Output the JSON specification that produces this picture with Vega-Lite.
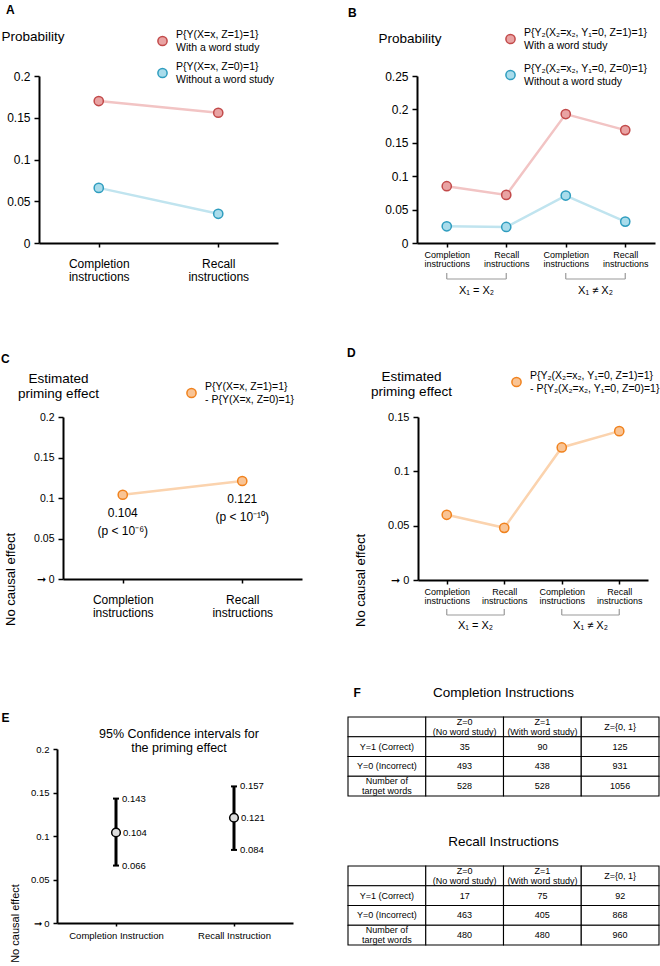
{
  "$schema": "https://vega.github.io/schema/vega-lite/v6.json",
  "padding": {"left": 0, "top": 3, "right": 0, "bottom": 0},
  "config": {
    "font": "Liberation Sans",
    "view": {"stroke": null},
    "axis": {"domainColor": "#000", "domainWidth": 2, "tickColor": "#000", "tickWidth": 1.5, "labelColor": "#000", "titleColor": "#000", "grid": false, "titleFontWeight": "normal", "labelFont": "Liberation Sans", "titleFont": "Liberation Sans"},
    "legend": {"labelColor": "#000", "labelFont": "Liberation Sans"},
    "title": {"color": "#000", "font": "Liberation Sans"},
    "text": {"color": "#000", "font": "Liberation Sans"},
    "style": {"guide-label": {"lineBreak": "|"}}
  },
  "concat": [
    {
      "concat": [
        {
          "concat": [
            {"width": 1, "height": 1, "data": {"values": []}, "mark": {"type": "point", "opacity": 0}, "encoding": {}},
            {
              "concat": [
                {
                  "width": 239, "height": 167,
                  "title": {"text": "A", "anchor": "start", "frame": "group", "dx": -33, "offset": 12.5, "fontSize": 12, "fontWeight": "bold"},
                  "data": {"values": [
                    {"instr": "Completion instructions", "series": "P{Y(X=x, Z=1)=1}|With a word study", "p": 0.170},
                    {"instr": "Recall instructions", "series": "P{Y(X=x, Z=1)=1}|With a word study", "p": 0.156},
                    {"instr": "Completion instructions", "series": "P{Y(X=x, Z=0)=1}|Without a word study", "p": 0.066},
                    {"instr": "Recall instructions", "series": "P{Y(X=x, Z=0)=1}|Without a word study", "p": 0.035}
                  ]},
                  "encoding": {
                    "x": {"field": "instr", "type": "nominal", "scale": {"type": "point", "padding": 0.5, "domain": ["Completion instructions", "Recall instructions"]}, "axis": {"title": null, "labelAngle": 0, "labelExpr": "split(datum.label, ' ')", "labelFontSize": 12, "labelLineHeight": 13.5, "tickSize": 4, "labelPadding": 11}},
                    "y": {"field": "p", "type": "quantitative", "scale": {"domain": [0, 0.2], "nice": false}, "axis": {"values": [0, 0.05, 0.1, 0.15, 0.2], "format": "~g", "labelFontSize": 12, "tickSize": 5, "labelPadding": 4, "title": "Probability", "titleAngle": 0, "titleAlign": "left", "titleBaseline": "alphabetic", "titleX": -38, "titleY": -36, "titleFontSize": 13.5}}
                  },
                  "layer": [
                    {"transform": [{"filter": {"field": "series", "equal": "P{Y(X=x, Z=1)=1}|With a word study"}}], "mark": {"type": "line", "strokeWidth": 2.5, "color": "#f2c4c4"}},
                    {"transform": [{"filter": {"field": "series", "equal": "P{Y(X=x, Z=0)=1}|Without a word study"}}], "mark": {"type": "line", "strokeWidth": 2.5, "color": "#c0e4ef"}},
                    {"mark": {"type": "circle", "size": 85, "strokeWidth": 1.5, "opacity": 1}, "encoding": {
                      "fill": {"field": "series", "type": "nominal", "scale": {"domain": ["P{Y(X=x, Z=1)=1}|With a word study", "P{Y(X=x, Z=0)=1}|Without a word study"], "range": ["#e9a3a3", "#a9dceb"]}, "legend": {"orient": "none", "legendX": 118, "legendY": -40.5, "title": null, "labelFontSize": 10.5, "labelLineHeight": 13, "labelBaseline": "line-bottom", "symbolSize": 85, "symbolStrokeWidth": 1.5, "rowPadding": 8, "labelOffset": 8, "padding": 0, "labelLimit": 300}},
                      "stroke": {"field": "series", "type": "nominal", "scale": {"domain": ["P{Y(X=x, Z=1)=1}|With a word study", "P{Y(X=x, Z=0)=1}|Without a word study"], "range": ["#c24a4a", "#2f9dbf"]}, "legend": {"orient": "none", "legendX": 118, "legendY": -40.5, "title": null, "labelFontSize": 10.5, "labelLineHeight": 13, "labelBaseline": "line-bottom", "symbolSize": 85, "symbolStrokeWidth": 1.5, "rowPadding": 8, "labelOffset": 8, "padding": 0, "labelLimit": 300}}
                    }}
                  ]
                },
                {
                  "width": 238, "height": 167,
                  "title": {"text": "B", "anchor": "start", "frame": "group", "dx": -69, "offset": 11, "fontSize": 12, "fontWeight": "bold"},
                  "data": {"values": [
                    {"cond": "Completion instructions, X₁ = X₂", "series": "P{Y₂(X₂=x₂, Y₁=0, Z=1)=1}|With a word study", "p": 0.085},
                    {"cond": "Recall instructions, X₁ = X₂", "series": "P{Y₂(X₂=x₂, Y₁=0, Z=1)=1}|With a word study", "p": 0.072},
                    {"cond": "Completion instructions, X₁ ≠ X₂", "series": "P{Y₂(X₂=x₂, Y₁=0, Z=1)=1}|With a word study", "p": 0.193},
                    {"cond": "Recall instructions, X₁ ≠ X₂", "series": "P{Y₂(X₂=x₂, Y₁=0, Z=1)=1}|With a word study", "p": 0.169},
                    {"cond": "Completion instructions, X₁ = X₂", "series": "P{Y₂(X₂=x₂, Y₁=0, Z=0)=1}|Without a word study", "p": 0.025},
                    {"cond": "Recall instructions, X₁ = X₂", "series": "P{Y₂(X₂=x₂, Y₁=0, Z=0)=1}|Without a word study", "p": 0.024},
                    {"cond": "Completion instructions, X₁ ≠ X₂", "series": "P{Y₂(X₂=x₂, Y₁=0, Z=0)=1}|Without a word study", "p": 0.071},
                    {"cond": "Recall instructions, X₁ ≠ X₂", "series": "P{Y₂(X₂=x₂, Y₁=0, Z=0)=1}|Without a word study", "p": 0.032}
                  ]},
                  "layer": [
                    {
                      "layer": [
                        {"transform": [{"filter": {"field": "series", "equal": "P{Y₂(X₂=x₂, Y₁=0, Z=1)=1}|With a word study"}}], "mark": {"type": "line", "strokeWidth": 2.5, "color": "#f2c4c4"}, "encoding": {
                          "x": {"field": "cond", "type": "nominal", "scale": {"type": "point", "padding": 0.5, "domain": ["Completion instructions, X₁ = X₂", "Recall instructions, X₁ = X₂", "Completion instructions, X₁ ≠ X₂", "Recall instructions, X₁ ≠ X₂"]}, "axis": {"title": null, "labelAngle": 0, "labelExpr": "split(split(datum.label, ',')[0], ' ')", "labelFontSize": 9, "labelLineHeight": 9.5, "tickSize": 4, "labelPadding": 3}},
                          "y": {"field": "p", "type": "quantitative", "scale": {"domain": [0, 0.25], "nice": false}, "axis": {"values": [0, 0.05, 0.1, 0.15, 0.2, 0.25], "format": "~g", "labelFontSize": 12, "tickSize": 5, "labelPadding": 4, "title": "Probability", "titleAngle": 0, "titleAlign": "left", "titleBaseline": "alphabetic", "titleX": -39, "titleY": -34, "titleFontSize": 13.5}}
                        }},
                        {"transform": [{"filter": {"field": "series", "equal": "P{Y₂(X₂=x₂, Y₁=0, Z=0)=1}|Without a word study"}}], "mark": {"type": "line", "strokeWidth": 2.5, "color": "#c0e4ef"}, "encoding": {
                          "x": {"field": "cond", "type": "nominal", "axis": {"title": null, "labelAngle": 0, "labelExpr": "split(split(datum.label, ',')[0], ' ')", "labelFontSize": 9, "labelLineHeight": 9.5, "tickSize": 4, "labelPadding": 3}},
                          "y": {"field": "p", "type": "quantitative", "axis": {"values": [0, 0.05, 0.1, 0.15, 0.2, 0.25], "format": "~g", "labelFontSize": 12, "tickSize": 5, "labelPadding": 4, "title": "Probability", "titleAngle": 0, "titleAlign": "left", "titleBaseline": "alphabetic", "titleX": -39, "titleY": -34, "titleFontSize": 13.5}}
                        }},
                        {"mark": {"type": "circle", "size": 85, "strokeWidth": 1.5, "opacity": 1}, "encoding": {
                          "x": {"field": "cond", "type": "nominal", "axis": {"title": null, "labelAngle": 0, "labelExpr": "split(split(datum.label, ',')[0], ' ')", "labelFontSize": 9, "labelLineHeight": 9.5, "tickSize": 4, "labelPadding": 3}},
                          "y": {"field": "p", "type": "quantitative", "axis": {"values": [0, 0.05, 0.1, 0.15, 0.2, 0.25], "format": "~g", "labelFontSize": 12, "tickSize": 5, "labelPadding": 4, "title": "Probability", "titleAngle": 0, "titleAlign": "left", "titleBaseline": "alphabetic", "titleX": -39, "titleY": -34, "titleFontSize": 13.5}},
                          "fill": {"field": "series", "type": "nominal", "scale": {"domain": ["P{Y₂(X₂=x₂, Y₁=0, Z=1)=1}|With a word study", "P{Y₂(X₂=x₂, Y₁=0, Z=0)=1}|Without a word study"], "range": ["#e9a3a3", "#a9dceb"]}, "legend": {"orient": "none", "legendX": 88, "legendY": -42.5, "title": null, "labelFontSize": 10.5, "labelLineHeight": 13, "labelBaseline": "line-bottom", "symbolSize": 85, "symbolStrokeWidth": 1.5, "rowPadding": 12, "labelOffset": 8, "padding": 0, "labelLimit": 300}},
                          "stroke": {"field": "series", "type": "nominal", "scale": {"domain": ["P{Y₂(X₂=x₂, Y₁=0, Z=1)=1}|With a word study", "P{Y₂(X₂=x₂, Y₁=0, Z=0)=1}|Without a word study"], "range": ["#c24a4a", "#2f9dbf"]}, "legend": {"orient": "none", "legendX": 88, "legendY": -42.5, "title": null, "labelFontSize": 10.5, "labelLineHeight": 13, "labelBaseline": "line-bottom", "symbolSize": 85, "symbolStrokeWidth": 1.5, "rowPadding": 12, "labelOffset": 8, "padding": 0, "labelLimit": 300}}
                        }},
                        {"data": {"values": [
                          {"group": "X₁ = X₂", "from": "Completion instructions, X₁ = X₂", "to": "Recall instructions, X₁ = X₂"},
                          {"group": "X₁ ≠ X₂", "from": "Completion instructions, X₁ ≠ X₂", "to": "Recall instructions, X₁ ≠ X₂"}
                        ]},
                        "mark": {"type": "rule", "yOffset": 36, "color": "#9a9a9a", "strokeWidth": 1.2},
                        "encoding": {"x": {"field": "from", "type": "nominal", "axis": {"title": null}}, "x2": {"field": "to"}, "y": {"datum": 0, "type": "quantitative", "axis": {"values": [0, 0.05, 0.1, 0.15, 0.2, 0.25], "format": "~g", "title": "Probability"}}}},
                        {"data": {"values": [
                          {"group": "X₁ = X₂", "from": "Completion instructions, X₁ = X₂", "to": "Recall instructions, X₁ = X₂"},
                          {"group": "X₁ ≠ X₂", "from": "Completion instructions, X₁ ≠ X₂", "to": "Recall instructions, X₁ ≠ X₂"}
                        ]},
                        "mark": {"type": "rule", "yOffset": 30, "y2Offset": 36, "color": "#9a9a9a", "strokeWidth": 1.2},
                        "encoding": {"x": {"field": "from", "type": "nominal", "axis": {"title": null}}, "y": {"datum": 0, "type": "quantitative", "axis": {"values": [0, 0.05, 0.1, 0.15, 0.2, 0.25], "format": "~g", "title": "Probability"}}, "y2": {"datum": 0}}},
                        {"data": {"values": [
                          {"group": "X₁ = X₂", "from": "Completion instructions, X₁ = X₂", "to": "Recall instructions, X₁ = X₂"},
                          {"group": "X₁ ≠ X₂", "from": "Completion instructions, X₁ ≠ X₂", "to": "Recall instructions, X₁ ≠ X₂"}
                        ]},
                        "mark": {"type": "rule", "yOffset": 30, "y2Offset": 36, "color": "#9a9a9a", "strokeWidth": 1.2},
                        "encoding": {"x": {"field": "to", "type": "nominal", "axis": {"title": null}}, "y": {"datum": 0, "type": "quantitative", "axis": {"values": [0, 0.05, 0.1, 0.15, 0.2, 0.25], "format": "~g", "title": "Probability"}}, "y2": {"datum": 0}}}
                      ]
                    },
                    {
                      "data": {"values": [{"group": "X₁ = X₂"}, {"group": "X₁ ≠ X₂"}]},
                      "mark": {"type": "text", "dy": 48, "fontSize": 11, "baseline": "middle"},
                      "encoding": {
                        "x": {"field": "group", "type": "nominal", "scale": {"type": "point", "padding": 0.5, "domain": ["X₁ = X₂", "X₁ ≠ X₂"]}, "axis": null},
                        "y": {"datum": 0, "type": "quantitative", "axis": {"values": [0, 0.05, 0.1, 0.15, 0.2, 0.25], "format": "~g", "title": "Probability"}},
                        "text": {"field": "group"}
                      }
                    }
                  ],
                  "resolve": {"scale": {"x": "independent"}}
                }
              ],
              "spacing": 70,
              "align": "none",
              "resolve": {"scale": {"color": "independent", "fill": "independent", "stroke": "independent"}, "legend": {"color": "independent", "fill": "independent", "stroke": "independent"}}
            }
          ],
          "spacing": 0,
          "align": "none",
          "resolve": {"scale": {"color": "independent", "fill": "independent", "stroke": "independent"}, "legend": {"color": "independent", "fill": "independent", "stroke": "independent"}}
        },
        {
          "concat": [
            {"width": 1, "height": 1, "data": {"values": []}, "mark": {"type": "point", "opacity": 0}, "encoding": {}},
            {
              "concat": [
                {
                  "width": 239, "height": 162,
                  "title": {"text": "  C", "anchor": "start", "frame": "group", "dx": -62, "offset": 5, "fontSize": 12, "fontWeight": "bold"},
                  "data": {"values": [
                    {"instr": "Completion instructions", "series": "P{Y(X=x, Z=1)=1}|- P{Y(X=x, Z=0)=1}", "effect": 0.104, "note": "0.104\n(p < 10⁻⁶)"},
                    {"instr": "Recall instructions", "series": "P{Y(X=x, Z=1)=1}|- P{Y(X=x, Z=0)=1}", "effect": 0.121, "note": "0.121\n(p < 10⁻¹⁰)"}
                  ]},
                  "encoding": {
                    "x": {"field": "instr", "type": "nominal", "scale": {"type": "point", "padding": 0.5, "domain": ["Completion instructions", "Recall instructions"]}, "axis": {"title": "No causal effect", "titleAngle": 270, "titleX": -53, "titleY": 0, "titleAlign": "center", "titleBaseline": "middle", "titleFontSize": 13, "labelAngle": 0, "labelExpr": "split(datum.label, ' ')", "labelFontSize": 12, "labelLineHeight": 13.5, "tickSize": 4, "labelPadding": 11}},
                    "y": {"field": "effect", "type": "quantitative", "scale": {"domain": [0, 0.2], "nice": false}, "axis": {"values": [0, 0.05, 0.1, 0.15, 0.2], "format": "~g", "labelExpr": "datum.value == 0 ? '➞   0' : datum.label", "labelFontSize": 10.5, "tickSize": 5, "labelPadding": 4, "title": ["Estimated", "priming effect"], "titleAngle": 0, "titleAlign": "center", "titleBaseline": "alphabetic", "titleX": -5, "titleY": -35, "titleFontSize": 13.5, "titleLineHeight": 15}}
                  },
                  "layer": [
                    {"mark": {"type": "line", "strokeWidth": 2.5, "color": "#fbd3ae"}},
                    {"mark": {"type": "circle", "size": 85, "strokeWidth": 1.5, "opacity": 1}, "encoding": {
                      "fill": {"field": "series", "type": "nominal", "scale": {"domain": ["P{Y(X=x, Z=1)=1}|- P{Y(X=x, Z=0)=1}"], "range": ["#f9c495"]}, "legend": {"orient": "none", "legendX": 123, "legendY": -29.5, "title": null, "labelFontSize": 10.5, "labelLineHeight": 12, "labelBaseline": "line-bottom", "symbolSize": 85, "symbolStrokeWidth": 1.5, "labelOffset": 8, "padding": 0, "labelLimit": 300}},
                      "stroke": {"field": "series", "type": "nominal", "scale": {"domain": ["P{Y(X=x, Z=1)=1}|- P{Y(X=x, Z=0)=1}"], "range": ["#f0821e"]}, "legend": {"orient": "none", "legendX": 123, "legendY": -29.5, "title": null, "labelFontSize": 10.5, "labelLineHeight": 12, "labelBaseline": "line-bottom", "symbolSize": 85, "symbolStrokeWidth": 1.5, "labelOffset": 8, "padding": 0, "labelLimit": 300}}
                    }},
                    {"mark": {"type": "text", "lineBreak": "\n", "baseline": "top", "dy": 13, "fontSize": 12, "lineHeight": 18}, "encoding": {"text": {"field": "note"}}}
                  ]
                },
                {
                  "width": 230, "height": 163,
                  "title": {"text": "D", "anchor": "start", "frame": "group", "dx": -71, "offset": 9.5, "fontSize": 12, "fontWeight": "bold"},
                  "data": {"values": [
                    {"cond": "Completion instructions, X₁ = X₂", "series": "P{Y₂(X₂=x₂, Y₁=0, Z=1)=1}|- P{Y₂(X₂=x₂, Y₁=0, Z=0)=1}", "effect": 0.060},
                    {"cond": "Recall instructions, X₁ = X₂", "series": "P{Y₂(X₂=x₂, Y₁=0, Z=1)=1}|- P{Y₂(X₂=x₂, Y₁=0, Z=0)=1}", "effect": 0.048},
                    {"cond": "Completion instructions, X₁ ≠ X₂", "series": "P{Y₂(X₂=x₂, Y₁=0, Z=1)=1}|- P{Y₂(X₂=x₂, Y₁=0, Z=0)=1}", "effect": 0.122},
                    {"cond": "Recall instructions, X₁ ≠ X₂", "series": "P{Y₂(X₂=x₂, Y₁=0, Z=1)=1}|- P{Y₂(X₂=x₂, Y₁=0, Z=0)=1}", "effect": 0.137}
                  ]},
                  "layer": [
                    {
                      "layer": [
                        {"mark": {"type": "line", "strokeWidth": 2.5, "color": "#fbd3ae"}, "encoding": {
                          "x": {"field": "cond", "type": "nominal", "scale": {"type": "point", "padding": 0.5, "domain": ["Completion instructions, X₁ = X₂", "Recall instructions, X₁ = X₂", "Completion instructions, X₁ ≠ X₂", "Recall instructions, X₁ ≠ X₂"]}, "axis": {"title": "No causal effect", "titleAngle": 270, "titleX": -58, "titleY": 0, "titleAlign": "center", "titleBaseline": "middle", "titleFontSize": 13, "labelAngle": 0, "labelExpr": "split(split(datum.label, ',')[0], ' ')", "labelFontSize": 9, "labelLineHeight": 9.5, "tickSize": 4, "labelPadding": 3}},
                          "y": {"field": "effect", "type": "quantitative", "scale": {"domain": [0, 0.15], "nice": false}, "axis": {"values": [0, 0.05, 0.1, 0.15], "format": "~g", "labelExpr": "datum.value == 0 ? '➞   0' : datum.label", "labelFontSize": 11, "tickSize": 5, "labelPadding": 4, "title": ["Estimated", "priming effect"], "titleAngle": 0, "titleAlign": "center", "titleBaseline": "alphabetic", "titleX": -7, "titleY": -37, "titleFontSize": 13.5, "titleLineHeight": 15}}
                        }},
                        {"mark": {"type": "circle", "size": 85, "strokeWidth": 1.5, "opacity": 1}, "encoding": {
                          "x": {"field": "cond", "type": "nominal"},
                          "y": {"field": "effect", "type": "quantitative"},
                          "fill": {"field": "series", "type": "nominal", "scale": {"domain": ["P{Y₂(X₂=x₂, Y₁=0, Z=1)=1}|- P{Y₂(X₂=x₂, Y₁=0, Z=0)=1}"], "range": ["#f9c495"]}, "legend": {"orient": "none", "legendX": 93, "legendY": -40.5, "title": null, "labelFontSize": 10.5, "labelLineHeight": 12, "labelBaseline": "line-bottom", "symbolSize": 85, "symbolStrokeWidth": 1.5, "labelOffset": 8, "padding": 0, "labelLimit": 300}},
                          "stroke": {"field": "series", "type": "nominal", "scale": {"domain": ["P{Y₂(X₂=x₂, Y₁=0, Z=1)=1}|- P{Y₂(X₂=x₂, Y₁=0, Z=0)=1}"], "range": ["#f0821e"]}, "legend": {"orient": "none", "legendX": 93, "legendY": -40.5, "title": null, "labelFontSize": 10.5, "labelLineHeight": 12, "labelBaseline": "line-bottom", "symbolSize": 85, "symbolStrokeWidth": 1.5, "labelOffset": 8, "padding": 0, "labelLimit": 300}}
                        }},
                        {"data": {"values": [
                          {"group": "X₁ = X₂", "from": "Completion instructions, X₁ = X₂", "to": "Recall instructions, X₁ = X₂"},
                          {"group": "X₁ ≠ X₂", "from": "Completion instructions, X₁ ≠ X₂", "to": "Recall instructions, X₁ ≠ X₂"}
                        ]},
                        "mark": {"type": "rule", "yOffset": 35, "color": "#9a9a9a", "strokeWidth": 1.2},
                        "encoding": {"x": {"field": "from", "type": "nominal"}, "x2": {"field": "to"}, "y": {"datum": 0, "type": "quantitative"}}},
                        {"data": {"values": [
                          {"group": "X₁ = X₂", "from": "Completion instructions, X₁ = X₂", "to": "Recall instructions, X₁ = X₂"},
                          {"group": "X₁ ≠ X₂", "from": "Completion instructions, X₁ ≠ X₂", "to": "Recall instructions, X₁ ≠ X₂"}
                        ]},
                        "mark": {"type": "rule", "yOffset": 29, "y2Offset": 35, "color": "#9a9a9a", "strokeWidth": 1.2},
                        "encoding": {"x": {"field": "from", "type": "nominal"}, "y": {"datum": 0, "type": "quantitative"}, "y2": {"datum": 0}}},
                        {"data": {"values": [
                          {"group": "X₁ = X₂", "from": "Completion instructions, X₁ = X₂", "to": "Recall instructions, X₁ = X₂"},
                          {"group": "X₁ ≠ X₂", "from": "Completion instructions, X₁ ≠ X₂", "to": "Recall instructions, X₁ ≠ X₂"}
                        ]},
                        "mark": {"type": "rule", "yOffset": 29, "y2Offset": 35, "color": "#9a9a9a", "strokeWidth": 1.2},
                        "encoding": {"x": {"field": "to", "type": "nominal"}, "y": {"datum": 0, "type": "quantitative"}, "y2": {"datum": 0}}}
                      ]
                    },
                    {
                      "data": {"values": [{"group": "X₁ = X₂"}, {"group": "X₁ ≠ X₂"}]},
                      "mark": {"type": "text", "dy": 46, "fontSize": 11, "baseline": "middle"},
                      "encoding": {
                        "x": {"field": "group", "type": "nominal", "scale": {"type": "point", "padding": 0.5, "domain": ["X₁ = X₂", "X₁ ≠ X₂"]}, "axis": null},
                        "y": {"datum": 0, "type": "quantitative"},
                        "text": {"field": "group"}
                      }
                    }
                  ],
                  "resolve": {"scale": {"x": "independent"}}
                }
              ],
              "spacing": 45,
              "align": "none",
              "resolve": {"scale": {"color": "independent", "fill": "independent", "stroke": "independent"}, "legend": {"color": "independent", "fill": "independent", "stroke": "independent"}}
            }
          ],
          "spacing": 0,
          "align": "none",
          "resolve": {"scale": {"color": "independent", "fill": "independent", "stroke": "independent"}, "legend": {"color": "independent", "fill": "independent", "stroke": "independent"}}
        }
      ],
      "columns": 1,
      "spacing": 50,
      "align": "none",
      "resolve": {"scale": {"color": "independent", "fill": "independent", "stroke": "independent"}, "legend": {"color": "independent", "fill": "independent", "stroke": "independent"}}
    },
    {
      "concat": [
        {"width": 1, "height": 1, "data": {"values": []}, "mark": {"type": "point", "opacity": 0}, "encoding": {}},
        {
          "concat": [
            {
              "vconcat": [
                {"width": 1, "height": 1, "data": {"values": []}, "mark": {"type": "point", "opacity": 0}, "encoding": {}},
                {
                  "width": 236, "height": 174,
                  "title": {"text": ["95% Confidence intervals for", "the priming effect"], "anchor": "middle", "frame": "group", "dx": 4, "offset": -43, "fontSize": 12.5, "fontWeight": "normal", "lineHeight": 14},
                  "data": {"values": [
                    {"instr": "Completion Instruction", "lo": 0.066, "est": 0.104, "hi": 0.143},
                    {"instr": "Recall Instruction", "lo": 0.084, "est": 0.121, "hi": 0.157}
                  ]},
                  "encoding": {
                    "x": {"field": "instr", "type": "nominal", "scale": {"type": "point", "padding": 0.5, "domain": ["Completion Instruction", "Recall Instruction"]}, "axis": {"title": "No causal effect", "titleAngle": 270, "titleX": -42, "titleY": 0, "titleAlign": "center", "titleBaseline": "middle", "titleFontSize": 11, "labelAngle": 0, "labelFontSize": 9.5, "tickSize": 3, "labelPadding": 4}}
                  },
                  "layer": [
                    {"mark": {"type": "rule", "strokeWidth": 3, "color": "#000"}, "encoding": {
                      "y": {"field": "lo", "type": "quantitative", "scale": {"domain": [0, 0.2], "nice": false}, "axis": {"values": [0, 0.05, 0.1, 0.15, 0.2], "format": "~g", "labelExpr": "datum.value == 0 ? '➞  0' : datum.label", "labelFontSize": 9.5, "tickSize": 4, "labelPadding": 4, "title": "  E", "titleAngle": 0, "titleAlign": "left", "titleBaseline": "middle", "titleX": -56, "titleY": -32, "titleFontSize": 12, "titleFontWeight": "bold"}},
                      "y2": {"field": "hi"}
                    }},
                    {"mark": {"type": "tick", "orient": "horizontal", "size": 6, "thickness": 2, "color": "#000", "opacity": 1}, "encoding": {"y": {"field": "lo", "type": "quantitative"}}},
                    {"mark": {"type": "tick", "orient": "horizontal", "size": 6, "thickness": 2, "color": "#000", "opacity": 1}, "encoding": {"y": {"field": "hi", "type": "quantitative"}}},
                    {"mark": {"type": "circle", "size": 75, "fill": "#dcdcdc", "stroke": "#000", "strokeWidth": 1.5, "opacity": 1}, "encoding": {"y": {"field": "est", "type": "quantitative"}}},
                    {"mark": {"type": "text", "align": "left", "dx": 6, "fontSize": 9.5, "baseline": "middle"}, "encoding": {"y": {"field": "lo", "type": "quantitative"}, "text": {"field": "lo", "type": "quantitative", "format": ".3f"}}},
                    {"mark": {"type": "text", "align": "left", "dx": 7, "fontSize": 9.5, "baseline": "middle"}, "encoding": {"y": {"field": "est", "type": "quantitative"}, "text": {"field": "est", "type": "quantitative", "format": ".3f"}}},
                    {"mark": {"type": "text", "align": "left", "dx": 6, "fontSize": 9.5, "baseline": "middle"}, "encoding": {"y": {"field": "hi", "type": "quantitative"}, "text": {"field": "hi", "type": "quantitative", "format": ".3f"}}}
                  ]
                }
              ],
              "spacing": 31,
              "bounds": "flush"
            },
            {
              "vconcat": [
                {
                  "width": 311, "height": 79,
                  "title": {"text": "Completion Instructions", "anchor": "middle", "offset": -13, "fontSize": 13.5, "fontWeight": "normal"},
                  "data": {"values": [
                    {"row": "head", "col": "label", "text": ""},
                    {"row": "head", "col": "z0", "text": "Z=0\n(No word study)"},
                    {"row": "head", "col": "z1", "text": "Z=1\n(With word study)"},
                    {"row": "head", "col": "zall", "text": "Z={0, 1}"},
                    {"row": "y1", "col": "label", "text": "Y=1 (Correct)"},
                    {"row": "y1", "col": "z0", "text": "35"},
                    {"row": "y1", "col": "z1", "text": "90"},
                    {"row": "y1", "col": "zall", "text": "125"},
                    {"row": "y0", "col": "label", "text": "Y=0 (Incorrect)"},
                    {"row": "y0", "col": "z0", "text": "493"},
                    {"row": "y0", "col": "z1", "text": "438"},
                    {"row": "y0", "col": "zall", "text": "931"},
                    {"row": "n", "col": "label", "text": "Number of\ntarget words"},
                    {"row": "n", "col": "z0", "text": "528"},
                    {"row": "n", "col": "z1", "text": "528"},
                    {"row": "n", "col": "zall", "text": "1056"}
                  ]},
                  "encoding": {
                    "x": {"field": "col", "type": "nominal", "scale": {"domain": ["label", "z0", "z1", "zall"], "paddingInner": 0, "paddingOuter": 0}, "axis": null},
                    "y": {"field": "row", "type": "nominal", "scale": {"domain": ["head", "y1", "y0", "n"], "paddingInner": 0, "paddingOuter": 0}, "axis": {"title": "F", "labels": false, "ticks": false, "domain": false, "titleAngle": 0, "titleAlign": "left", "titleBaseline": "middle", "titleX": 5, "titleY": -25, "titleFontSize": 12, "titleFontWeight": "bold"}}
                  },
                  "layer": [
                    {"mark": {"type": "rect", "fill": "#fff", "stroke": "#000", "strokeWidth": 1.1}},
                    {"transform": [{"filter": "indexof(datum.text, '\\n') < 0"}], "mark": {"type": "text", "fontSize": 9, "baseline": "middle"}, "encoding": {"text": {"field": "text"}}},
                    {"transform": [{"filter": "indexof(datum.text, '\\n') >= 0"}], "mark": {"type": "text", "fontSize": 9, "lineBreak": "\n", "baseline": "middle", "lineHeight": 10, "dy": -5}, "encoding": {"text": {"field": "text"}}}
                  ]
                },
                {
                  "width": 311, "height": 79,
                  "title": {"text": "Recall Instructions", "anchor": "middle", "offset": 17, "fontSize": 13.5, "fontWeight": "normal"},
                  "data": {"values": [
                    {"row": "head", "col": "label", "text": ""},
                    {"row": "head", "col": "z0", "text": "Z=0\n(No word study)"},
                    {"row": "head", "col": "z1", "text": "Z=1\n(With word study)"},
                    {"row": "head", "col": "zall", "text": "Z={0, 1}"},
                    {"row": "y1", "col": "label", "text": "Y=1 (Correct)"},
                    {"row": "y1", "col": "z0", "text": "17"},
                    {"row": "y1", "col": "z1", "text": "75"},
                    {"row": "y1", "col": "zall", "text": "92"},
                    {"row": "y0", "col": "label", "text": "Y=0 (Incorrect)"},
                    {"row": "y0", "col": "z0", "text": "463"},
                    {"row": "y0", "col": "z1", "text": "405"},
                    {"row": "y0", "col": "zall", "text": "868"},
                    {"row": "n", "col": "label", "text": "Number of\ntarget  words"},
                    {"row": "n", "col": "z0", "text": "480"},
                    {"row": "n", "col": "z1", "text": "480"},
                    {"row": "n", "col": "zall", "text": "960"}
                  ]},
                  "encoding": {
                    "x": {"field": "col", "type": "nominal", "scale": {"domain": ["label", "z0", "z1", "zall"], "paddingInner": 0, "paddingOuter": 0}, "axis": null},
                    "y": {"field": "row", "type": "nominal", "scale": {"domain": ["head", "y1", "y0", "n"], "paddingInner": 0, "paddingOuter": 0}, "axis": null}
                  },
                  "layer": [
                    {"mark": {"type": "rect", "fill": "#fff", "stroke": "#000", "strokeWidth": 1.1}},
                    {"transform": [{"filter": "indexof(datum.text, '\\n') < 0"}], "mark": {"type": "text", "fontSize": 9, "baseline": "middle"}, "encoding": {"text": {"field": "text"}}},
                    {"transform": [{"filter": "indexof(datum.text, '\\n') >= 0"}], "mark": {"type": "text", "fontSize": 9, "lineBreak": "\n", "baseline": "middle", "lineHeight": 10, "dy": -5}, "encoding": {"text": {"field": "text"}}}
                  ]
                }
              ],
              "spacing": 70,
              "bounds": "flush"
            }
          ],
          "spacing": 54,
          "align": "none",
          "resolve": {"scale": {"color": "independent", "fill": "independent", "stroke": "independent"}, "legend": {"color": "independent", "fill": "independent", "stroke": "independent"}}
        }
      ],
      "spacing": 0,
      "align": "none",
      "resolve": {"scale": {"color": "independent", "fill": "independent", "stroke": "independent"}, "legend": {"color": "independent", "fill": "independent", "stroke": "independent"}}
    }
  ],
  "columns": 1,
  "spacing": 54,
  "align": "none",
  "resolve": {"scale": {"color": "independent", "fill": "independent", "stroke": "independent"}, "legend": {"color": "independent", "fill": "independent", "stroke": "independent"}}
}
